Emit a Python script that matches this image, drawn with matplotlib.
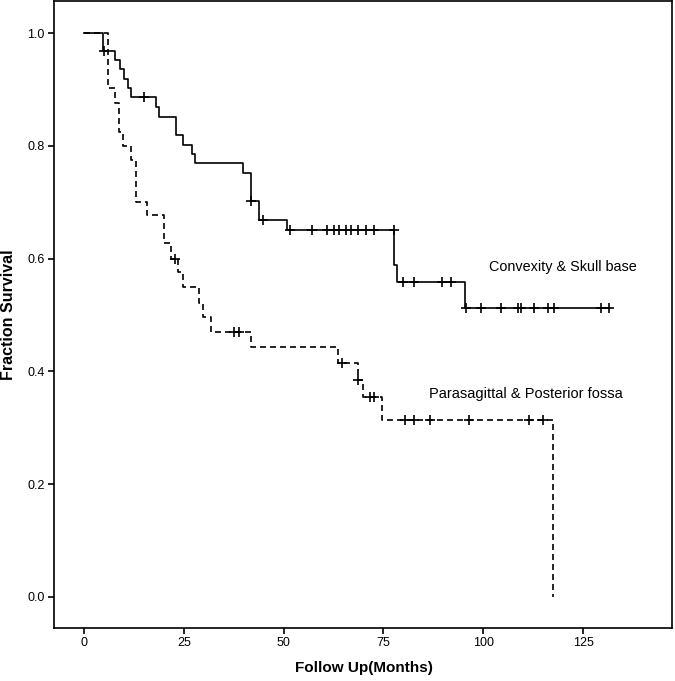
import matplotlib
matplotlib.use("Agg")
import matplotlib.pyplot as plt
import numpy as np

plt.rcParams['font.family'] = ['Liberation Sans', 'DejaVu Sans']
plt.rcParams['lines.scale_dashes'] = False

# Convexity & Skull base (solid)
conv_times = [0, 4.8, 7.8, 9.0, 9.9, 10.9, 11.8, 17.9, 18.8, 22.9, 24.8, 26.9, 27.8,
              39.7, 41.8, 43.7, 50.8, 77.7, 78.5, 95.5]
conv_surv = [1.0, 0.968, 0.952, 0.936, 0.919, 0.902, 0.886, 0.869, 0.852, 0.819, 0.802,
             0.785, 0.769, 0.752, 0.702, 0.668, 0.651, 0.589, 0.558, 0.513]
conv_end = 131.6
conv_cens = [5.0, 14.9, 41.8, 44.7, 51.6, 57.0, 60.8, 62.5, 63.8, 65.6, 66.8, 68.6, 70.7,
             72.5, 77.6, 79.8, 82.7, 89.6, 91.9, 95.7, 99.4, 104.4, 108.6, 109.4, 112.6,
             116.1, 117.8, 129.5, 131.6]

# Parasagittal & Posterior fossa (dashed)
para_times = [0, 5.85, 7.8, 8.8, 9.8, 11.8, 12.95, 15.8, 19.9, 21.7, 23.6, 24.8, 28.8,
              29.8, 31.8, 41.8, 63.7, 68.7, 69.8, 74.6, 117.4]
para_surv = [1.0, 0.902, 0.876, 0.825, 0.800, 0.775, 0.701, 0.677, 0.627, 0.600, 0.577,
             0.549, 0.521, 0.497, 0.470, 0.444, 0.415, 0.385, 0.354, 0.314, 0.0]
para_cens = [22.7, 37.6, 38.8, 64.7, 68.7, 71.7, 72.7, 80.5, 82.7, 86.7, 96.5, 111.4, 114.9]

x_ticks = [0, 25, 50, 75, 100, 125]
y_ticks = [0.0, 0.2, 0.4, 0.6, 0.8, 1.0]


def surv_at(times, surv, t):
    idx = np.searchsorted(times, t, side='right') - 1
    return surv[max(idx, 0)]


W, H = 675, 681
fig = plt.figure(figsize=(W / 100, H / 100), dpi=100)
ax = fig.add_axes([53.5 / W, 1 - 628 / H, (672 - 53.5) / W, (628 - 1.5) / H])

# solid curve
xs = list(conv_times) + [conv_end]
ys = list(conv_surv) + [conv_surv[-1]]
ax.step(xs, ys, where='post', color='black', lw=1.2)
cy = [surv_at(conv_times, conv_surv, t) for t in conv_cens]
ax.plot(conv_cens, cy, linestyle='none', marker='+', color='black', ms=6.5, mew=1.2)

# dashed curve
ax.step(para_times, para_surv, where='post', color='black', lw=1.2, dashes=(4.3, 2.9))
py = [surv_at(para_times, para_surv, t) for t in para_cens]
ax.plot(para_cens, py, linestyle='none', marker='+', color='black', ms=6.5, mew=1.2)

ax.text(101.4, 0.585, 'Convexity & Skull base', fontsize=10.4, va='center', ha='left')
ax.text(86.3, 0.36, 'Parasagittal & Posterior fossa', fontsize=10.5, va='center', ha='left')

ax.set_xlim(-7.7, 147.3)
ax.set_ylim(-0.055, 1.056)
ax.set_xticks(x_ticks)
ax.set_yticks(y_ticks)
ax.set_xticklabels([str(t) for t in x_ticks])
ax.set_yticklabels(['%.1f' % t for t in y_ticks])
ax.tick_params(axis='both', direction='out', length=4.3, width=1.2, labelsize=9, pad=2.2)
for s in ax.spines.values():
    s.set_linewidth(1.2)

fig.text(364 / W, 1 - 668 / H, 'Follow Up(Months)', fontsize=11, fontweight='bold',
         ha='center', va='center')
fig.text(8.5 / W, 1 - 315 / H, 'Fraction Survival', fontsize=11.5, fontweight='bold',
         ha='center', va='center', rotation=90)

fig.savefig('out.png', dpi=100)
